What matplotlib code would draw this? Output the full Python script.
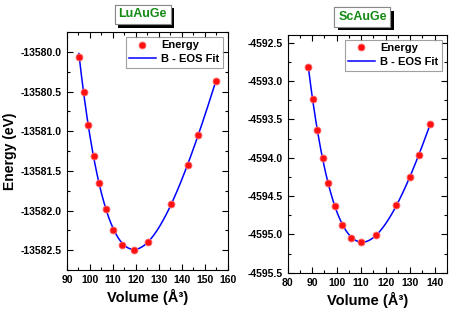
import numpy as np
import matplotlib.pyplot as plt
import matplotlib.patheffects as pe
from matplotlib.ticker import MultipleLocator, AutoMinorLocator

plt.rcParams['font.family'] = ['Liberation Sans', 'DejaVu Sans']
plt.rcParams['font.weight'] = 'bold'

# LuAuGe energy vs volume
lu_vol = [95.2, 97.4, 99.3, 101.7, 103.9, 107.0, 110.1, 114.0, 119.0, 125.2, 135.1, 142.5, 146.8, 154.9]
lu_energy = [-13580.06, -13580.51, -13580.92, -13581.31, -13581.65, -13581.98, -13582.24,
             -13582.43, -13582.50, -13582.40, -13581.92, -13581.42, -13581.05, -13580.37]

# ScAuGe energy vs volume
sc_vol = [88.4, 90.3, 92.2, 94.3, 96.5, 99.3, 102.3, 105.8, 110.1, 116.0, 124.4, 129.8, 133.5, 138.3]
sc_energy = [-4592.82, -4593.24, -4593.64, -4594.00, -4594.33, -4594.63, -4594.87,
             -4595.04, -4595.10, -4595.01, -4594.62, -4594.25, -4593.97, -4593.56]


def bm_fit(v, e):
    # third order Birch-Murnaghan is a cubic in V^(-2/3)
    v = np.asarray(v)
    x = v ** (-2.0 / 3.0)
    c = np.polyfit(x, e, 3)
    vv = np.linspace(v.min(), v.max(), 300)
    return vv, np.polyval(c, vv ** (-2.0 / 3.0))


fig = plt.figure(figsize=(4.55, 3.18), dpi=100)
ax1 = fig.add_axes([0.147, 0.151, 0.354, 0.748])
ax2 = fig.add_axes([0.632, 0.142, 0.350, 0.748])

panels = [
    (ax1, lu_vol, lu_energy, 'LuAuGe', (90, 160), (-13582.75, -13579.75)),
    (ax2, sc_vol, sc_energy, 'ScAuGe', (80, 145), (-4595.5, -4592.4)),
]

for ax, v, e, name, xl, yl in panels:
    vv, ee = bm_fit(v, e)
    ax.plot(vv, ee, color='#0000ff', lw=1.1, label='B - EOS Fit', zorder=2)
    ax.plot(v, e, 'o', color='#ff1010', mec='#ff7070', mew=0.6, ms=5,
            label='Energy', zorder=3, ls='none')
    ax.set_xlim(*xl)
    ax.set_ylim(*yl)
    ax.xaxis.set_major_locator(MultipleLocator(10))
    ax.yaxis.set_major_locator(MultipleLocator(0.5))
    ax.xaxis.set_minor_locator(AutoMinorLocator(2))
    ax.yaxis.set_minor_locator(AutoMinorLocator(2))
    ax.yaxis.set_major_formatter(plt.FormatStrFormatter('%.1f'))
    ax.tick_params(which='both', direction='in', top=True, right=True, labelsize=7.5, width=0.8)
    ax.tick_params(which='major', length=4)
    ax.tick_params(which='minor', length=2)
    for s in ax.spines.values():
        s.set_linewidth(0.8)
    ax.set_xlabel('Volume (Å³)', fontsize=10.5, fontweight='bold', labelpad=3)

    h, l = ax.get_legend_handles_labels()
    leg = ax.legend(h[::-1], l[::-1], loc='upper right', fontsize=8, frameon=True,
                    fancybox=False, edgecolor='#888888', borderaxespad=0.45,
                    handlelength=2.4, handletextpad=0.5, borderpad=0.3, labelspacing=0.35)
    leg.get_frame().set_linewidth(0.8)
    for t in leg.get_texts():
        t.set_fontweight('bold')

    t = ax.text(0.47, 1.075, name, transform=ax.transAxes, ha='center', va='center',
                fontsize=9, fontweight='bold', color='#138a13',
                bbox=dict(boxstyle='square,pad=0.3', fc='white', ec='#888888', lw=0.8))
    t.get_bbox_patch().set_path_effects([
        pe.withSimplePatchShadow(offset=(2.5, -2.5), shadow_rgbFace='black', alpha=1.0),
        pe.Normal()])

ax1.set_ylabel('Energy (eV)', fontsize=10, fontweight='bold', labelpad=3)

fig.savefig('out.png', dpi=100)
